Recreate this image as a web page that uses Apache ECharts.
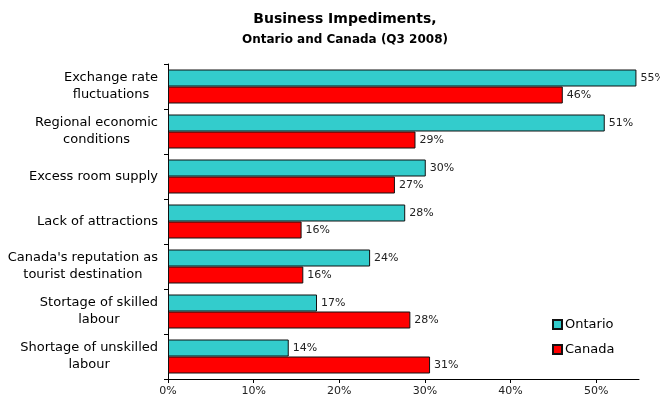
<!DOCTYPE html>
<html>
<head>
<meta charset="utf-8">
<script src="https://cdn.jsdelivr.net/npm/echarts@6/dist/echarts.min.js"></script>
<style>
html,body{margin:0;padding:0;background:#fff;}
#chart{width:660px;height:404px;}
</style>
</head>
<body>
<div id="chart"></div>
<script>
const categories = [
  "Exchange rate\nfluctuations",
  "Regional economic\nconditions",
  "Excess room supply",
  "Lack of attractions",
  "Canada's reputation as\ntourist destination",
  "Stortage of skilled\nlabour",
  "Shortage of unskilled\nlabour"
];
const ontario = [54.7, 51.0, 30.1, 27.7, 23.6, 17.4, 14.1];
const canada  = [46.1, 28.9, 26.5, 15.6, 15.8, 28.3, 30.6];
const xTicks = [0, 10, 20, 30, 40, 50];

const chart = echarts.init(document.getElementById('chart'), null, {renderer: 'canvas'});
const FONT = 'DejaVu Sans';

function centerLines(s) {
  return s.split('\n').map(l => '{c|' + l + '}').join('\n');
}

const labelCfg = {
  show: true,
  position: 'right',
  distance: 4,
  fontFamily: FONT,
  fontSize: 11,
  color: '#222',
  formatter: p => Math.round(p.value) + '%'
};

chart.setOption({
  animation: false,
  backgroundColor: '#fff',
  title: {
    text: 'Business Impediments,',
    subtext: 'Ontario and Canada (Q3 2008)',
    left: 345,
    textAlign: 'center',
    top: 12,
    padding: 0,
    itemGap: 8,
    textStyle: {fontFamily: FONT, fontSize: 14, fontWeight: 'bold', color: '#000'},
    subtextStyle: {fontFamily: FONT, fontSize: 12, fontWeight: 'bold', color: '#000'}
  },
  legend: {
    orient: 'vertical',
    left: 552,
    top: 318,
    padding: 0,
    itemWidth: 9,
    itemHeight: 9,
    itemGap: 12,
    icon: 'rect',
    textStyle: {fontFamily: FONT, fontSize: 13, color: '#000', padding: [0, 0, 0, -2]},
    data: ['Ontario', 'Canada']
  },
  grid: {left: 168, right: 21, top: 64, bottom: 25, containLabel: false},
  xAxis: {
    type: 'value',
    min: 0,
    max: 55,
    interval: 10,
    splitLine: {show: false},
    axisLine: {show: true, lineStyle: {color: '#000', width: 1}},
    axisTick: {show: true, length: 4, customValues: xTicks, lineStyle: {color: '#000'}},
    axisLabel: {
      customValues: xTicks,
      fontFamily: FONT, fontSize: 11, color: '#222', margin: 7,
      formatter: v => v + '%'
    }
  },
  yAxis: {
    type: 'category',
    inverse: true,
    data: categories,
    axisLine: {show: true, lineStyle: {color: '#000', width: 1}},
    axisTick: {show: true, length: 4, lineStyle: {color: '#000'}},
    axisLabel: {
      margin: 10,
      fontFamily: FONT,
      fontSize: 13,
      color: '#000',
      lineHeight: 17,
      formatter: v => centerLines(v),
      rich: {c: {align: 'center', fontFamily: FONT, fontSize: 13, color: '#000', lineHeight: 17}}
    }
  },
  series: [
    {
      name: 'Ontario',
      type: 'bar',
      data: ontario,
      barWidth: 17,
      barGap: '0%',
      itemStyle: {color: '#33CCCC', borderColor: '#111', borderWidth: 1},
      label: labelCfg
    },
    {
      name: 'Canada',
      type: 'bar',
      data: canada,
      barWidth: 17,
      barGap: '0%',
      itemStyle: {color: '#FF0000', borderColor: '#111', borderWidth: 1},
      label: labelCfg
    }
  ]
});
</script>
</body>
</html>
